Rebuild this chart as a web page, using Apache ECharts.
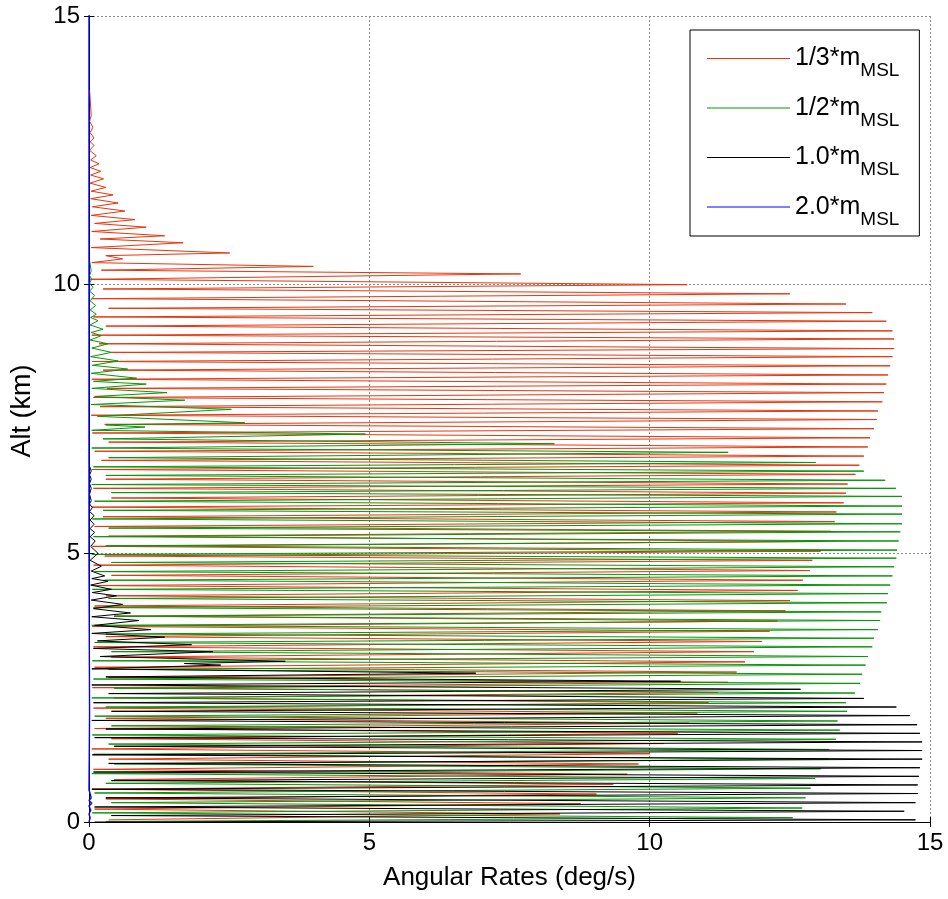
<!DOCTYPE html>
<html><head><meta charset="utf-8">
<script src="https://cdn.jsdelivr.net/npm/echarts@6/dist/echarts.min.js"></script>
<style>html,body{margin:0;padding:0;background:#fff}#c{width:948px;height:899px}</style>
</head><body><div id="c"></div>
<script>
// Legend names (subscript appended in legend)
const seriesNames = ['1/3*m', '1/2*m', '1.0*m', '2.0*m'];
const subscriptText = 'MSL';
const xName = 'Angular Rates (deg/s)';
const yName = 'Alt (km)';
const axisMin = 0, axisMax = 15, tickStep = 5;

// [angular rate (deg/s), altitude (km)] turning points
const red = [
[0.01,13.62],[0.04,13.15],[0.01,13.04],[0.07,12.93],[0.02,12.83],[0.09,12.73],[0.02,12.66],[0.09,12.59],[0.01,12.50],[0.13,12.40],
[0.03,12.32],[0.18,12.25],[0.02,12.18],[0.21,12.11],[0.03,12.04],[0.26,11.97],[0.02,11.89],[0.30,11.81],[0.04,11.74],[0.43,11.67],
[0.03,11.60],[0.52,11.52],[0.06,11.45],[0.64,11.37],[0.04,11.29],[0.82,11.21],[0.10,11.14],[1.02,11.07],[0.05,10.99],[1.35,10.91],
[0.20,10.85],[1.68,10.78],[0.04,10.69],[2.51,10.59],[0.30,10.54],[0.60,10.48],[0.05,10.41],[4.00,10.34],[0.22,10.27],[7.70,10.20],
[0.02,10.10],[10.67,10.00],[0.25,9.92],[12.50,9.83],[0.05,9.74],[13.50,9.64],[0.35,9.56],[13.97,9.48],[0.08,9.40],[14.22,9.32],
[0.30,9.23],[14.33,9.14],[0.05,9.06],[14.36,8.99],[0.18,8.90],[14.36,8.81],[0.40,8.74],[14.33,8.66],[0.06,8.57],[14.29,8.49],
[0.25,8.41],[14.25,8.32],[0.05,8.24],[14.22,8.15],[0.32,8.07],[14.18,7.99],[0.08,7.90],[14.15,7.82],[0.20,7.73],[14.07,7.65],
[0.04,7.57],[14.05,7.49],[0.28,7.40],[14.00,7.32],[0.06,7.24],[13.93,7.15],[0.35,7.07],[13.89,6.98],[0.10,6.90],[13.82,6.81],
[0.22,6.73],[13.74,6.64],[0.05,6.56],[13.67,6.47],[0.30,6.38],[13.53,6.29],[0.08,6.21],[13.50,6.12],[0.40,6.03],[13.46,5.94],
[0.05,5.86],[13.33,5.77],[0.25,5.68],[13.30,5.59],[0.10,5.50],[13.23,5.41],[0.35,5.32],[13.10,5.22],[0.06,5.13],[13.05,5.04],
[0.28,4.95],[12.90,4.87],[0.08,4.78],[12.86,4.68],[0.40,4.59],[12.73,4.50],[0.05,4.40],[12.64,4.31],[0.30,4.21],[12.50,4.12],
[0.10,4.02],[12.42,3.93],[0.45,3.83],[12.28,3.74],[0.06,3.64],[12.14,3.55],[0.30,3.45],[12.00,3.36],[0.08,3.26],[11.86,3.17],
[0.40,3.07],[11.70,2.98],[0.10,2.88],[11.55,2.79],[0.35,2.69],[11.40,2.60],[0.06,2.50],[11.22,2.41],[0.45,2.31],[11.05,2.22],
[0.08,2.12],[10.85,2.03],[0.30,1.93],[10.70,1.84],[0.10,1.74],[10.50,1.65],[0.40,1.55],[10.25,1.46],[0.05,1.36],[10.00,1.27],
[0.35,1.17],[9.80,1.08],[0.08,0.98],[9.60,0.89],[0.45,0.79],[9.35,0.70],[0.06,0.61],[9.05,0.52],[0.30,0.43],[8.77,0.34],
[0.10,0.24],[8.40,0.15],[0.35,0.04]
];
const green = [
[0.01,10.45],[0.04,10.25],[0.01,10.17],[0.05,10.10],[0.01,10.03],[0.07,9.95],[0.01,9.88],[0.10,9.80],[0.02,9.70],[0.12,9.61],
[0.02,9.53],[0.13,9.45],[0.03,9.39],[0.16,9.33],[0.02,9.25],[0.25,9.17],[0.04,9.11],[0.22,9.05],[0.02,8.97],[0.34,8.90],
[0.05,8.82],[0.40,8.74],[0.03,8.66],[0.52,8.58],[0.06,8.50],[0.69,8.43],[0.04,8.35],[0.85,8.26],[0.08,8.20],[1.02,8.15],
[0.05,8.07],[1.39,7.99],[0.10,7.92],[1.71,7.85],[0.04,7.77],[2.54,7.68],[0.15,7.55],[2.78,7.43],[0.30,7.39],[1.00,7.35],
[0.05,7.29],[4.93,7.22],[0.25,7.13],[8.30,7.04],[0.05,6.96],[11.40,6.88],[0.35,6.78],[12.96,6.69],[0.08,6.61],[13.82,6.53],
[0.30,6.45],[14.20,6.36],[0.05,6.28],[14.39,6.21],[0.40,6.13],[14.50,6.06],[0.10,5.97],[14.50,5.88],[0.25,5.80],[14.50,5.73],
[0.06,5.64],[14.50,5.55],[0.35,5.47],[14.47,5.40],[0.08,5.31],[14.44,5.23],[0.30,5.14],[14.41,5.06],[0.05,4.98],[14.40,4.91],
[0.40,4.83],[14.36,4.75],[0.10,4.66],[14.33,4.58],[0.28,4.50],[14.29,4.41],[0.06,4.33],[14.25,4.25],[0.35,4.16],[14.23,4.08],
[0.08,3.99],[14.13,3.91],[0.45,3.83],[14.11,3.75],[0.05,3.66],[14.07,3.58],[0.30,3.50],[14.00,3.42],[0.10,3.34],[13.97,3.26],
[0.40,3.17],[13.89,3.08],[0.06,3.00],[13.85,2.92],[0.35,2.84],[13.79,2.75],[0.08,2.66],[13.75,2.58],[0.45,2.49],[13.66,2.40],
[0.05,2.31],[13.50,2.22],[0.30,2.14],[13.52,2.06],[0.10,1.97],[13.35,1.88],[0.40,1.79],[13.39,1.71],[0.06,1.62],[13.32,1.54],
[0.35,1.45],[13.20,1.35],[0.08,1.26],[13.19,1.17],[0.45,1.08],[13.05,0.99],[0.05,0.90],[12.95,0.81],[0.30,0.72],[12.87,0.63],
[0.10,0.54],[12.78,0.45],[0.40,0.36],[12.72,0.26],[0.06,0.17],[12.55,0.08],[0.30,0.01]
];
const black = [
[0.01,6.62],[0.04,6.53],[0.01,6.46],[0.04,6.38],[0.01,6.30],[0.04,6.21],[0.01,6.10],[0.04,5.98],[0.01,5.92],[0.06,5.85],
[0.01,5.78],[0.09,5.70],[0.02,5.62],[0.09,5.54],[0.02,5.46],[0.10,5.39],[0.02,5.31],[0.11,5.23],[0.03,5.13],[0.16,5.00],
[0.02,4.87],[0.22,4.76],[0.04,4.67],[0.28,4.58],[0.05,4.53],[0.34,4.48],[0.03,4.41],[0.40,4.33],[0.06,4.27],[0.49,4.21],
[0.04,4.13],[0.60,4.05],[0.08,3.97],[0.74,3.89],[0.05,3.82],[0.89,3.75],[0.10,3.66],[1.10,3.58],[0.05,3.51],[1.35,3.44],
[0.15,3.37],[1.83,3.30],[0.08,3.23],[2.21,3.17],[0.20,3.08],[3.50,2.99],[1.70,2.95],[2.35,2.92],[0.05,2.85],[6.90,2.77],
[0.30,2.70],[10.55,2.62],[0.05,2.55],[12.69,2.47],[0.35,2.39],[13.82,2.30],[0.08,2.22],[14.40,2.14],[0.40,2.06],[14.64,1.98],
[0.05,1.89],[14.77,1.81],[0.30,1.73],[14.82,1.65],[0.10,1.57],[14.86,1.49],[0.45,1.41],[14.86,1.33],[0.06,1.25],[14.86,1.17],
[0.35,1.09],[14.82,1.01],[0.08,0.93],[14.80,0.85],[0.40,0.77],[14.78,0.69],[0.05,0.61],[14.78,0.53],[0.30,0.45],[14.74,0.36],
[0.10,0.28],[14.54,0.20],[0.40,0.12],[14.74,0.04],[0.10,0.00]
];
const blue = [
[0.00,15.5],[0.00,5.0],[0.01,2.0],[0.00,0.60],[0.04,0.45],[0.00,0.40],[0.05,0.35],[0.00,0.30],[0.03,0.22],[0.00,0.15],[0.02,0.08],[0.00,0.00]
];

const seriesData = [red, green, black, blue];
const seriesColors = ['#e8360f', '#0a960a', '#000000', '#0000ff'];
const seriesWidths = [1, 1, 1, 1.4];

const chart = echarts.init(document.getElementById('c'), null, {renderer: 'canvas'});
const font = 'Liberation Sans, Arial, sans-serif';
const tickLine = {show: true, inside: true, length: 5, lineStyle: {color: '#000', width: 1}};
const gridLine = {show: true, lineStyle: {color: '#8a8a8a', type: [2, 2], width: 1}};

chart.setOption({
  animation: false,
  backgroundColor: '#fff',
  grid: {left: 89, right: 18, top: 16, bottom: 77, containLabel: false},
  xAxis: [{
    type: 'value', min: axisMin, max: axisMax, interval: tickStep,
    name: xName, nameLocation: 'middle', nameGap: 43,
    nameTextStyle: {fontFamily: font, fontSize: 26, color: '#000'},
    axisLine: {show: true, lineStyle: {color: '#000', width: 1}},
    axisTick: tickLine,
    axisLabel: {fontFamily: font, fontSize: 24, color: '#000', margin: 9},
    splitLine: gridLine
  }, {
    type: 'value', position: 'top', min: axisMin, max: axisMax, interval: tickStep,
    axisLine: {show: false}, axisTick: tickLine, axisLabel: {show: false}, splitLine: {show: false}
  }],
  yAxis: [{
    type: 'value', min: axisMin, max: axisMax, interval: tickStep,
    name: yName, nameLocation: 'middle', nameGap: 53, nameRotate: 90,
    nameTextStyle: {fontFamily: font, fontSize: 27, color: '#000', padding: [0, 0, 0, 16]},
    axisLine: {show: true, lineStyle: {color: '#000', width: 1}},
    axisTick: tickLine,
    axisLabel: {fontFamily: font, fontSize: 24, color: '#000', margin: 9},
    splitLine: gridLine
  }, {
    type: 'value', position: 'right', min: axisMin, max: axisMax, interval: tickStep,
    axisLine: {show: false}, axisTick: tickLine, axisLabel: {show: false}, splitLine: {show: false}
  }],
  legend: {
    data: seriesNames,
    icon: 'rect',
    orient: 'vertical', left: 690, top: 30,
    padding: [16, 20, 7, 17], itemGap: 15, itemWidth: 83, itemHeight: 1,
    borderColor: '#000', borderWidth: 1, backgroundColor: '#fff',
    formatter: name => '{m|' + name + '}{s|' + subscriptText + '}',
    textStyle: {
      color: '#000', fontFamily: font,
      rich: {
        m: {fontSize: 25, fontFamily: font, color: '#000', lineHeight: 44},
        s: {fontSize: 19, fontFamily: font, color: '#000', lineHeight: 18, verticalAlign: 'bottom'}
      }
    }
  },
  series: seriesNames.map((n, i) => ({
    name: n, type: 'line', data: seriesData[i], z: 2 + i,
    showSymbol: false, symbol: 'none', smooth: false, clip: true,
    lineStyle: {color: seriesColors[i], width: seriesWidths[i]},
    itemStyle: {color: seriesColors[i]},
    emphasis: {disabled: true}
  }))
});
</script></body></html>
